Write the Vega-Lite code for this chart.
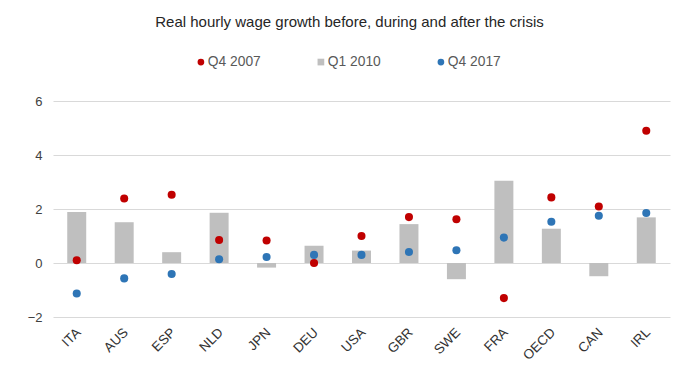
{
  "$schema": "https://vega.github.io/schema/vega-lite/v6.json",
  "width": 617,
  "height": 216,
  "autosize": {"type": "none"},
  "padding": {"left": 53, "top": 101, "right": 30, "bottom": 54},
  "background": "white",
  "title": {"text": "Real hourly wage growth before, during and after the crisis", "offset": 25, "dx": -12},
  "data": {
    "values": [
      {"country": "ITA", "series": "Q4 2007", "value": 0.1},
      {"country": "ITA", "series": "Q1 2010", "value": 1.89},
      {"country": "ITA", "series": "Q4 2017", "value": -1.13},
      {"country": "AUS", "series": "Q4 2007", "value": 2.39},
      {"country": "AUS", "series": "Q1 2010", "value": 1.51},
      {"country": "AUS", "series": "Q4 2017", "value": -0.57},
      {"country": "ESP", "series": "Q4 2007", "value": 2.53},
      {"country": "ESP", "series": "Q1 2010", "value": 0.4},
      {"country": "ESP", "series": "Q4 2017", "value": -0.41},
      {"country": "NLD", "series": "Q4 2007", "value": 0.85},
      {"country": "NLD", "series": "Q1 2010", "value": 1.86},
      {"country": "NLD", "series": "Q4 2017", "value": 0.14},
      {"country": "JPN", "series": "Q4 2007", "value": 0.83},
      {"country": "JPN", "series": "Q1 2010", "value": -0.17},
      {"country": "JPN", "series": "Q4 2017", "value": 0.22},
      {"country": "DEU", "series": "Q4 2007", "value": 0.0},
      {"country": "DEU", "series": "Q1 2010", "value": 0.64},
      {"country": "DEU", "series": "Q4 2017", "value": 0.3},
      {"country": "USA", "series": "Q4 2007", "value": 1.0},
      {"country": "USA", "series": "Q1 2010", "value": 0.46},
      {"country": "USA", "series": "Q4 2017", "value": 0.3},
      {"country": "GBR", "series": "Q4 2007", "value": 1.7},
      {"country": "GBR", "series": "Q1 2010", "value": 1.44},
      {"country": "GBR", "series": "Q4 2017", "value": 0.41},
      {"country": "SWE", "series": "Q4 2007", "value": 1.62},
      {"country": "SWE", "series": "Q1 2010", "value": -0.6},
      {"country": "SWE", "series": "Q4 2017", "value": 0.47},
      {"country": "FRA", "series": "Q4 2007", "value": -1.3},
      {"country": "FRA", "series": "Q1 2010", "value": 3.05},
      {"country": "FRA", "series": "Q4 2017", "value": 0.94},
      {"country": "OECD", "series": "Q4 2007", "value": 2.43},
      {"country": "OECD", "series": "Q1 2010", "value": 1.27},
      {"country": "OECD", "series": "Q4 2017", "value": 1.53},
      {"country": "CAN", "series": "Q4 2007", "value": 2.09},
      {"country": "CAN", "series": "Q1 2010", "value": -0.49},
      {"country": "CAN", "series": "Q4 2017", "value": 1.75},
      {"country": "IRL", "series": "Q4 2007", "value": 4.9},
      {"country": "IRL", "series": "Q1 2010", "value": 1.69},
      {"country": "IRL", "series": "Q4 2017", "value": 1.85}
    ]
  },
  "encoding": {
    "x": {
      "field": "country",
      "type": "nominal",
      "sort": null,
      "scale": {"paddingInner": 0.6, "paddingOuter": 0.3},
      "axis": {"title": null, "labelAngle": -45, "domain": false, "ticks": false, "labelPadding": 8, "labelOffset": -3, "grid": false, "labelFontSize": 13.5, "labelColor": "#333333"}
    },
    "y": {
      "field": "value",
      "type": "quantitative",
      "scale": {"domain": [-2, 6], "nice": false, "zero": false},
      "axis": {"title": null, "values": [-2, 0, 2, 4, 6], "domain": false, "ticks": false, "labelPadding": 11, "grid": true}
    },
    "color": {
      "field": "series",
      "type": "nominal",
      "scale": {"domain": ["Q4 2007", "Q1 2010", "Q4 2017"], "range": ["#C00000", "#BFBFBF", "#2E75B6"]},
      "legend": {"title": null, "orient": "none", "direction": "horizontal", "legendX": 141, "legendY": -46}
    }
  },
  "layer": [
    {
      "transform": [{"filter": "datum.series === 'Q1 2010'"}],
      "mark": {"type": "bar"}
    },
    {
      "transform": [{"filter": "datum.series !== 'Q1 2010'"}],
      "mark": {"type": "point", "filled": true, "opacity": 1, "size": 65},
      "encoding": {
        "shape": {
          "field": "series",
          "type": "nominal",
          "scale": {"domain": ["Q4 2007", "Q1 2010", "Q4 2017"], "range": ["circle", "square", "circle"]},
          "legend": {"title": null, "orient": "none", "direction": "horizontal", "legendX": 141, "legendY": -46}
        }
      }
    }
  ],
  "config": {
    "font": "Liberation Sans",
    "view": {"stroke": null},
    "title": {"fontSize": 15, "fontWeight": "normal", "color": "#262626", "anchor": "middle"},
    "axis": {"labelFontSize": 13, "labelColor": "#404040", "gridColor": "#D9D9D9", "gridWidth": 1},
    "legend": {"labelFontSize": 13.8, "labelColor": "#595959", "symbolSize": 45, "columnPadding": 53, "labelOffset": 0, "padding": 0, "symbolStrokeWidth": 0}
  }
}
